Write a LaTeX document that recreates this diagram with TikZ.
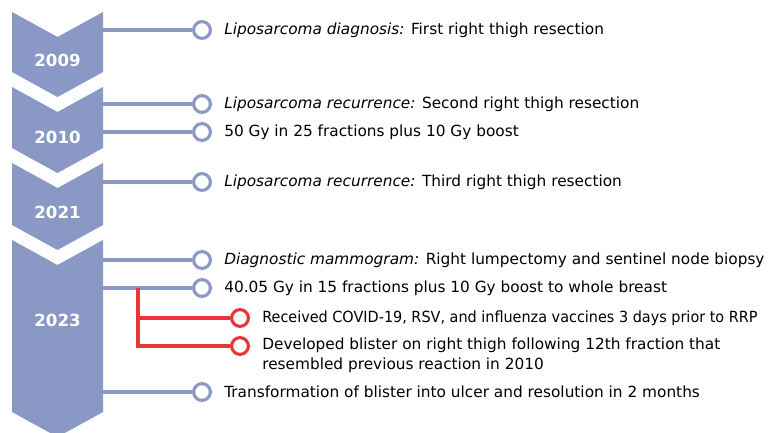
\documentclass[tikz,border=0pt]{standalone}
\usepackage{fontspec}
\setmainfont{DejaVu Sans}
\usepackage{xcolor}
\definecolor{cMain}{HTML}{8998C4}
\definecolor{cRed}{HTML}{EB3439}
\usetikzlibrary{positioning}
\tikzset{
  node-year/.style={text=white,font=\bfseries\fontsize{12.5}{15}\selectfont},
  node-dot/.style={circle,draw=cMain,line width=2.3pt,fill=white,
    inner sep=0pt,minimum size=12.6pt},
  node-dot-red/.style={node-dot,draw=cRed},
  node-text/.style={anchor=west,inner sep=0pt,align=left,
    font=\fontsize{11.5}{15}\selectfont},
  node-text-narrow/.style={node-text,
    font=\fontsize{11.5}{15}\selectfont\addfontfeature{FakeStretch=0.94}},
  link/.style={line width=2.3pt,draw=cMain},
  link-red/.style={line width=2.3pt,draw=cRed},
}

\begin{document}
\begin{tikzpicture}[x=0.75pt,y=-0.75pt]
  \useasboundingbox (0,0) rectangle (778,432);
  % chevrons
  \begin{scope}
    \clip (0,0) rectangle (778,432);
    \foreach \top/\bot in {12/72,87/148,163/225,240/412}
      \fill[cMain] (12,\top) -- (57.5,\top+25) -- (103,\top) -- (103,\bot)
        -- (57.5,\bot+25) -- (12,\bot) -- cycle;
  \end{scope}
  \node[node-year] (y2009) at (57.5,60)  {2009};
  \node[node-year] (y2010) at (57.5,137) {2010};
  \node[node-year] (y2021) at (57.5,212) {2021};
  \node[node-year] (y2023) at (57.5,320) {2023};
  % ribbon anchors
  \coordinate (s1) at (103,30);
  \coordinate (s2) at (103,104);
  \coordinate (s3) at (103,132);
  \coordinate (s4) at (103,182);
  \coordinate (s5) at (103,260);
  \coordinate (s6) at (103,288);
  \coordinate (s7) at (103,392);
  % events
  \node[node-dot] (d1) at (202,30)  {};
  \node[node-dot] (d2) at (202,104) {};
  \node[node-dot] (d3) at (202,132) {};
  \node[node-dot] (d4) at (202,182) {};
  \node[node-dot] (d5) at (202,260) {};
  \node[node-dot] (d6) at (202,288) {};
  \node[node-dot] (d7) at (202,392) {};
  \draw[link] (s1) -- (d1);
  \draw[link] (s2) -- (d2);
  \draw[link] (s3) -- (d3);
  \draw[link] (s4) -- (d4);
  \draw[link] (s5) -- (d5);
  \draw[link] (s6) -- (d6);
  \draw[link] (s7) -- (d7);
  \node[node-text] (t1) at (224,30)  {\textit{Liposarcoma diagnosis:} First right thigh resection};
  \node[node-text] (t2) at (224,104) {\textit{Liposarcoma recurrence:} Second right thigh resection};
  \node[node-text] (t3) at (224,132) {50 Gy in 25 fractions plus 10 Gy boost};
  \node[node-text] (t4) at (224,182) {\textit{Liposarcoma recurrence:} Third right thigh resection};
  \node[node-text] (t5) at (224,260) {\textit{Diagnostic mammogram:} Right lumpectomy and sentinel node biopsy};
  \node[node-text] (t6) at (224,288) {40.05 Gy in 15 fractions plus 10 Gy boost to whole breast};
  \node[node-text] (t7) at (224,392) {Transformation of blister into ulcer and resolution in 2 months};
  % reactions
  \coordinate (r0) at (138,288);
  \coordinate (r1) at (138,318);
  \coordinate (r2) at (138,346);
  \node[node-dot-red] (e1) at (240,318) {};
  \node[node-dot-red] (e2) at (240,346) {};
  \draw[link-red] (r0) -- (r2) -- (e2);
  \draw[link-red] (r1) -- (e1);
  \node[node-text-narrow] (u1) at (262,318) {Received COVID-19, RSV, and influenza vaccines 3 days prior to RRP};
  \node[node-text] (u2) at (262,355) {Developed blister on right thigh following 12th fraction that\\resembled previous reaction in 2010};
\end{tikzpicture}
\end{document}
